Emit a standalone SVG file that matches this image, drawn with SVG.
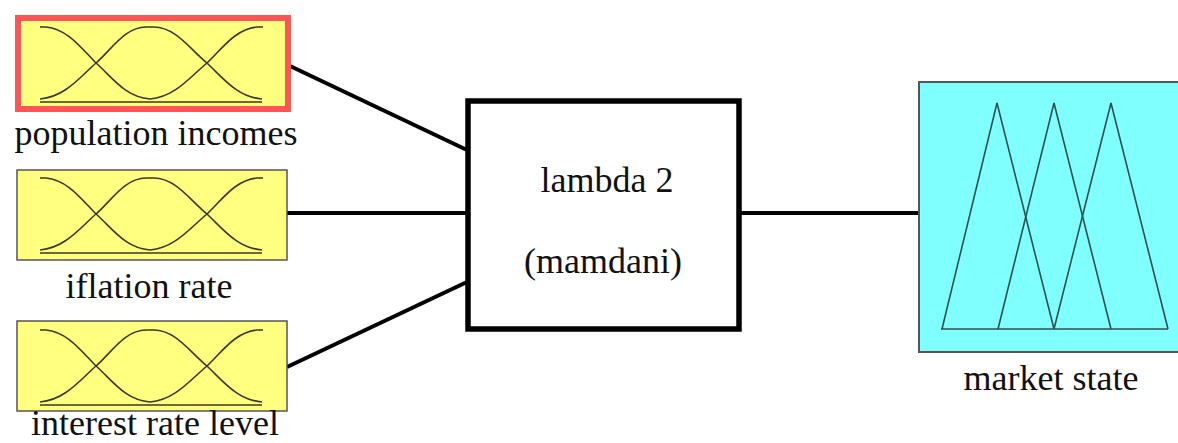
<svg xmlns="http://www.w3.org/2000/svg" width="1178" height="443" viewBox="0 0 1178 443">
<style>
.in{fill:#FFFF80;stroke:#555;stroke-width:1.5}
.mf{fill:none;stroke:#3a3a22;stroke-width:1.6}
.tri{fill:none;stroke:#2f5050;stroke-width:1.6}
.lbl{font-family:"Liberation Serif","Times New Roman",serif;font-size:36px;fill:#111;text-anchor:middle}
.conn{stroke:#000;stroke-width:4;fill:none}
</style>
<defs>
<g id="mfs">
<path class="mf" d="M40,0 L46,0 C68,2 82,22 96,36 C112,50 125,70 150,72"/>
<path class="mf" d="M40,72 C65,70 80,50 96,36 C112,22 125,0 146,0 L154,0 C175,0 190,22 207,36 C222,50 237,70 262,72"/>
<path class="mf" d="M150,72 C175,70 190,50 207,36 C222,22 235,2 257,0 L263,0"/>
<path class="mf" d="M40,75 H262"/>
</g>
</defs>
<g id="connectors">
<line class="conn" x1="290" y1="66" x2="467" y2="150"/>
<line class="conn" x1="287" y1="213" x2="467" y2="213"/>
<line class="conn" x1="287" y1="367" x2="467" y2="282"/>
<line class="conn" x1="740" y1="213" x2="920" y2="213"/>
</g>
<g id="population-incomes">
<rect x="18" y="18" width="270" height="91" fill="#FFFF80" stroke="#FF5555" stroke-width="6"/>
<use href="#mfs" transform="translate(0,27)"/>
<text class="lbl" x="156" y="145">population incomes</text>
</g>
<g id="iflation-rate">
<rect class="in" x="17" y="170" width="270" height="90"/>
<use href="#mfs" transform="translate(0,178)"/>
<text class="lbl" x="149" y="298">iflation rate</text>
</g>
<g id="interest-rate-level">
<rect class="in" x="17" y="321" width="270" height="90"/>
<use href="#mfs" transform="translate(0,330)"/>
<text class="lbl" x="155" y="435">interest rate level</text>
</g>
<g id="lambda">
<rect x="468" y="101" width="271" height="228" fill="#fff" stroke="#000" stroke-width="5.5"/>
<text class="lbl" x="607" y="192">lambda 2</text>
<text class="lbl" x="603" y="273">(mamdani)</text>
</g>
<g id="market-state">
<rect x="919" y="82" width="262" height="270" fill="#80FFFF" stroke="#555" stroke-width="2"/>
<polyline class="tri" points="942,329 997,103 1054,329"/>
<polyline class="tri" points="998,329 1054,103 1111,329"/>
<polyline class="tri" points="1054,329 1111,103 1168,329"/>
<line class="tri" x1="941" y1="329" x2="1168" y2="329"/>
<text class="lbl" x="1051" y="390">market state</text>
</g>
</svg>
